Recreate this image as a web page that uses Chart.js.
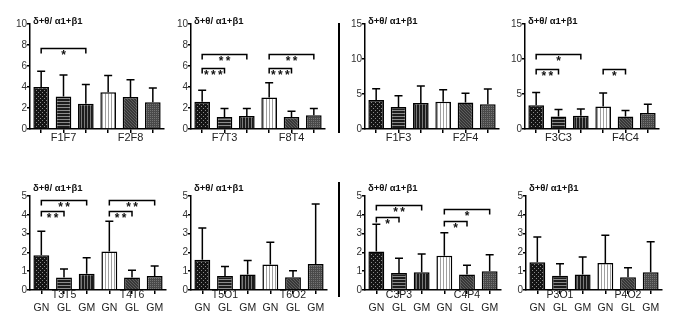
<!DOCTYPE html>
<html><head><meta charset="utf-8">
<script src="https://cdn.jsdelivr.net/npm/chart.js@4.4.1/dist/chart.umd.min.js"></script>
<style>
html,body{margin:0;padding:0;background:#fff;width:675px;height:318px;overflow:hidden;position:relative}
canvas{position:absolute}
.sep{position:absolute;background:#000;width:2px}
</style></head><body>
<div class="sep" style="left:338px;top:23px;height:110px"></div>
<div class="sep" style="left:338px;top:182px;height:115px"></div>
<script>
// ---------------- data ----------------
const yTitle = "δ+θ/ α1+β1";
const barLabels = ["GN", "GL", "GM"];
const groupLabels = [
  ["F1F7", "F2F8"], ["F7T3", "F8T4"], ["F1F3", "F2F4"], ["F3C3", "F4C4"],
  ["T3T5", "T4T6"], ["T5O1", "T6O2"], ["C3P3", "C4P4"], ["P3O1", "P4O2"]
];
const means = [
  [4.0, 3.1, 2.4, 3.5, 3.05, 2.55],
  [2.6, 1.15, 1.25, 3.0, 1.15, 1.3],
  [4.15, 3.15, 3.7, 3.9, 3.8, 3.55],
  [3.4, 1.8, 1.9, 3.2, 1.8, 2.3],
  [1.85, 0.66, 0.86, 2.05, 0.67, 0.74],
  [1.61, 0.75, 0.83, 1.35, 0.68, 1.38],
  [2.05, 0.91, 0.95, 1.82, 0.83, 1.0],
  [1.48, 0.76, 0.83, 1.43, 0.68, 0.95]
];
const sds = [
  [1.5, 2.05, 1.85, 1.6, 1.65, 1.35],
  [1.1, 0.8, 0.7, 1.4, 0.55, 0.65],
  [1.6, 1.6, 2.45, 1.7, 1.3, 2.15],
  [1.8, 1.0, 0.95, 1.95, 0.85, 1.25],
  [1.28, 0.46, 0.86, 1.61, 0.38, 0.53],
  [1.69, 0.5, 0.74, 1.19, 0.34, 3.19],
  [1.45, 0.78, 0.97, 1.22, 0.49, 0.88],
  [1.34, 0.64, 0.93, 1.48, 0.51, 1.62]
];
const yMax = [10, 10, 15, 15, 5, 5, 5, 5];
const yStep = [2, 2, 5, 5, 1, 1, 1, 1];
// [fromBar, toBar, value, label]
const brackets = [
  [[0, 2, 7.75, "*"]],
  [[0, 2, 7.1, "**"], [0, 1, 5.85, "***"], [3, 5, 7.1, "**"], [3, 4, 5.85, "***"]],
  [],
  [[0, 2, 10.75, "*"], [0, 1, 8.6, "**"], [3, 4, 8.6, "*"]],
  [[0, 2, 4.8, "**"], [0, 1, 4.18, "**"], [3, 5, 4.8, "**"], [3, 4, 4.18, "**"]],
  [],
  [[0, 2, 4.5, "**"], [0, 1, 3.86, "*"], [3, 5, 4.31, "*"], [3, 4, 3.68, "*"]],
  []
];
const showBarLabels = [false, false, false, false, true, true, true, true];

// ---------------- layout ----------------
const axisLeft = [30, 191, 365, 525, 30, 191, 365, 526];
const axisTop = [24, 24, 24, 24, 184, 184, 184, 184];
const axisBottom = [129, 129, 129, 129, 290, 290, 290, 290];
const axisWidth = 136;
const titleDy = [0, 0, 0, 0, -5, -5, -5, -5];

Chart.defaults.font.family = "'Liberation Sans', Arial, sans-serif";
Chart.defaults.color = '#222';

function pat(w, h, draw) {
  const c = document.createElement('canvas'); c.width = w; c.height = h;
  const g = c.getContext('2d'); draw(g);
  return document.createElement('canvas').getContext('2d').createPattern(c, 'repeat');
}
const patterns = [
  pat(4, 4, g => { g.fillStyle = '#141414'; g.fillRect(0,0,4,4); g.fillStyle = '#8a8a8a'; g.fillRect(0,0,1,1); g.fillRect(2,2,1,1); }),
  pat(1, 3, g => { g.fillStyle = '#1c1c1c'; g.fillRect(0,0,1,3); g.fillStyle = '#8c8c8c'; g.fillRect(0,2,1,1); }),
  pat(3, 1, g => { g.fillStyle = '#1c1c1c'; g.fillRect(0,0,3,1); g.fillStyle = '#7a7a7a'; g.fillRect(2,0,1,1); }),
  pat(3, 1, g => { g.fillStyle = '#ffffff'; g.fillRect(0,0,3,1); g.fillStyle = '#a0a0a0'; g.fillRect(2,0,1,1); }),
  pat(3, 3, g => { g.fillStyle = '#383838'; g.fillRect(0,0,3,3); g.fillStyle = '#5e5e5e'; g.fillRect(0,0,1,1); g.fillRect(1,1,1,1); g.fillRect(2,2,1,1); }),
  pat(4, 4, g => { g.fillStyle = '#4a4a4a'; g.fillRect(0,0,4,4); g.fillStyle = '#747474'; g.fillRect(0,0,1,1); g.fillRect(2,2,1,1); g.fillRect(2,0,1,1); g.fillRect(0,2,1,1); })
];

const overlay = {
  id: 'overlay',
  afterDatasetsDraw(chart, args, opts) {
    const i = opts.idx;
    const { ctx } = chart; const x = chart.scales.x, y = chart.scales.y;
    ctx.save();
    ctx.strokeStyle = '#000'; ctx.fillStyle = '#111'; ctx.lineWidth = 1.5;
    means[i].forEach((m, k) => {
      const cx = x.getPixelForValue(k);
      const y1 = y.getPixelForValue(m), y2 = y.getPixelForValue(m + sds[i][k]);
      ctx.beginPath();
      ctx.moveTo(cx, y1); ctx.lineTo(cx, y2);
      ctx.moveTo(cx - 4, y2); ctx.lineTo(cx + 4, y2);
      ctx.stroke();
    });
    brackets[i].forEach(([a, b, v, lab]) => {
      const xa = x.getPixelForValue(a), xb = x.getPixelForValue(b), yy = Math.round(y.getPixelForValue(v)) + 0.5;
      ctx.beginPath();
      ctx.moveTo(xa, yy + 5); ctx.lineTo(xa, yy); ctx.lineTo(xb, yy); ctx.lineTo(xb, yy + 5);
      ctx.stroke();
      ctx.font = "bold 12px 'Liberation Sans', Arial, sans-serif";
      ctx.textAlign = 'center'; ctx.textBaseline = 'top';
      ctx.fillText(lab.split('').join('\u2009'), (xa + xb) / 2, yy + 1);
    });
    ctx.font = "bold 9.5px 'Liberation Sans', Arial, sans-serif";
    ctx.textAlign = 'left'; ctx.textBaseline = 'alphabetic';
    ctx.fillText(yTitle, chart.chartArea.left + 3, chart.chartArea.top + titleDy[i]);
    ctx.restore();
  }
};

function makeLabels(i) {
  const g = groupLabels[i];
  if (!showBarLabels[i]) return ["", g[0], "", "", g[1], ""];
  return [["", barLabels[0]], [g[0], barLabels[1]], ["", barLabels[2]],
          ["", barLabels[0]], [g[1], barLabels[1]], ["", barLabels[2]]];
}

for (let i = 0; i < 8; i++) {
  const cv = document.createElement('canvas');
  cv.width = 175; cv.height = 150;
  cv.style.width = '175px'; cv.style.height = '150px';
  document.body.appendChild(cv);
  const bottomRow = showBarLabels[i];
  const chart = new Chart(cv, {
    type: 'bar',
    data: {
      labels: makeLabels(i),
      datasets: [{
        data: means[i],
        backgroundColor: patterns,
        borderColor: '#000',
        borderWidth: 1.5,
        borderSkipped: 'bottom',
        barPercentage: 0.7,
        categoryPercentage: 1.0
      }]
    },
    options: {
      responsive: false,
      animation: false,
      devicePixelRatio: 1,
      layout: { padding: { top: 18, right: 6, bottom: 0, left: 0 } },
      plugins: { legend: { display: false }, tooltip: { enabled: false }, overlay: { idx: i } },
      scales: {
        x: {
          offset: true,
          grid: { offset: false, drawOnChartArea: false, drawTicks: true, tickLength: 4, color: '#000', lineWidth: 1.5 },
          border: { display: true, color: '#000', width: 1.5 },
          ticks: { autoSkip: false, maxRotation: 0, minRotation: 0, padding: bottomRow ? -4.5 : -1.5,
                   font: { size: bottomRow ? 10.5 : 11, lineHeight: 1.15 }, color: '#222' },
          afterFit: s => { s.height = bottomRow ? 32 : 20; }
        },
        y: {
          min: 0, max: yMax[i],
          grid: { drawOnChartArea: false, drawTicks: true, tickLength: 3, color: '#000', lineWidth: 1.5 },
          border: { display: true, color: '#000', width: 1.5 },
          ticks: { stepSize: yStep[i], padding: 0, font: { size: 10 }, color: '#333' },
          afterFit: s => { s.width = 26; }
        }
      }
    },
    plugins: [overlay]
  });
  const ca = chart.chartArea;
  const dw = axisWidth - (ca.right - ca.left);
  const dh = (axisBottom[i] - axisTop[i]) - (ca.bottom - ca.top);
  if (Math.abs(dw) > 0.1 || Math.abs(dh) > 0.1) chart.resize(chart.width + dw, chart.height + dh);
  const cb = chart.chartArea;
  cv.style.left = (axisLeft[i] - cb.left) + 'px';
  cv.style.top = (axisBottom[i] - cb.bottom) + 'px';
}
</script>
</body></html>
